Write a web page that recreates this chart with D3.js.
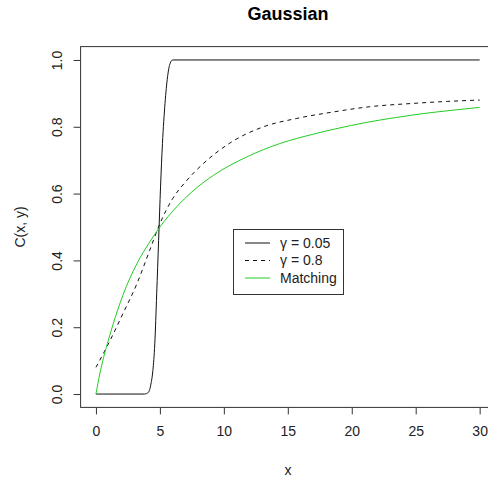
<!DOCTYPE html>
<html>
<head>
<meta charset="utf-8">
<script src="https://cdn.jsdelivr.net/npm/d3@7"></script>
<style>
  body { margin: 0; background: #fff; }
  svg { display: block; font-family: "Liberation Sans", Arial, sans-serif; }
  .tick text { font-size: 14px; fill: #222; }
</style>
</head>
<body>
<svg id="chart" width="488" height="479"></svg>
<script>
// values
const xTicks = [0, 5, 10, 15, 20, 25, 30];
const yTicks = [0.0, 0.2, 0.4, 0.6, 0.8, 1.0];

// gamma = 0.05 (solid black)
const narrowX = [0, 3.8, 4.1, 4.3, 4.45, 4.6, 4.75, 4.9, 5.05, 5.2, 5.4, 5.6, 5.8, 6.0, 30];
const narrowY = [0, 0, 0.005, 0.03, 0.07, 0.15, 0.3, 0.46, 0.62, 0.75, 0.87, 0.95, 0.99, 1.0, 1.0];

// gamma = 0.8 (dashed)
const wideX = [0, 1.1, 2.1, 3.2, 4.2, 5, 6, 7, 8.4, 10.5, 13.1, 15.7, 18.5, 21.4, 24.8, 27.5, 30];
const wideY = [0.08, 0.16, 0.24, 0.33, 0.43, 0.51, 0.585, 0.635, 0.69, 0.752, 0.80, 0.825, 0.844, 0.86, 0.87, 0.876, 0.88];

// matching (green)
const matchX = [0, 0.3, 0.6, 1, 1.35, 2.1, 3.2, 4.2, 5, 6.3, 7.5, 9.2, 11.8, 14.4, 17, 19, 21, 23.5, 26.1, 28, 30];
const matchY = [0, 0.06, 0.11, 0.165, 0.21, 0.295, 0.39, 0.455, 0.50, 0.56, 0.605, 0.655, 0.71, 0.75, 0.778, 0.796, 0.812, 0.828, 0.842, 0.85, 0.858];

const legendLabels = ["γ = 0.05", "γ = 0.8", "Matching"];

const svg = d3.select("#chart");

// R style: axis ranges padded by 4%
const x = d3.scaleLinear().domain([-1.2, 31.2]).range([80.6, 495]);
const y = d3.scaleLinear().domain([-0.04, 1.04]).range([407.4, 46.6]);

// plot box
svg.append("rect")
  .attr("x", x(-1.2)).attr("y", y(1.04))
  .attr("width", x(31.2) - x(-1.2)).attr("height", y(-0.04) - y(1.04))
  .attr("fill", "none").attr("stroke", "#333").attr("stroke-width", 1);

// x axis
const xAxis = svg.append("g")
  .attr("transform", `translate(0,${y(-0.04)})`)
  .call(d3.axisBottom(x).tickValues(xTicks).tickFormat(d3.format("d")).tickSize(7).tickPadding(12));
xAxis.select(".domain").remove();
xAxis.selectAll(".tick line").attr("stroke", "#333");

// y axis, labels turned like R
const yAxis = svg.append("g")
  .attr("transform", `translate(${x(-1.2)},0)`)
  .call(d3.axisLeft(y).tickValues(yTicks).tickFormat(d3.format(".1f")).tickSize(7));
yAxis.select(".domain").remove();
yAxis.selectAll(".tick line").attr("stroke", "#333");
yAxis.selectAll(".tick text")
  .attr("x", null).attr("dy", null)
  .attr("transform", "translate(-18.5,0) rotate(-90)")
  .attr("text-anchor", "middle");

// title and axis labels
svg.append("text").attr("x", 288).attr("y", 20)
  .attr("text-anchor", "middle").attr("font-size", 18).attr("font-weight", "bold")
  .text("Gaussian");
svg.append("text").attr("x", 288).attr("y", 475)
  .attr("text-anchor", "middle").attr("font-size", 14).attr("fill", "#222")
  .text("x");
svg.append("text")
  .attr("transform", `translate(25,${(y(-0.04) + y(1.04)) / 2}) rotate(-90)`)
  .attr("text-anchor", "middle").attr("font-size", 14).attr("fill", "#222")
  .text("C(x, y)");

// curves
const line = d3.line().curve(d3.curveMonotoneX).x(d => x(d[0])).y(d => y(d[1]));
const series = [
  { xs: narrowX, ys: narrowY, color: "#111", dash: null },
  { xs: wideX, ys: wideY, color: "#111", dash: "4,4" },
  { xs: matchX, ys: matchY, color: "#22cc22", dash: null }
];
series.forEach(s => {
  svg.append("path")
    .datum(s.xs.map((v, i) => [v, s.ys[i]]))
    .attr("d", line)
    .attr("fill", "none")
    .attr("stroke", s.color)
    .attr("stroke-width", 1)
    .attr("stroke-dasharray", s.dash);
});

// legend
const legend = svg.append("g");
legend.append("rect")
  .attr("x", 233.5).attr("y", 229.5).attr("width", 110).attr("height", 65)
  .attr("fill", "#fff").attr("stroke", "#333");
series.forEach((s, i) => {
  const ly = 243 + i * 17.5;
  legend.append("line")
    .attr("x1", 245).attr("x2", 270).attr("y1", ly).attr("y2", ly)
    .attr("stroke", s.color).attr("stroke-dasharray", s.dash);
  legend.append("text")
    .attr("x", 280).attr("y", ly).attr("dy", "0.35em")
    .attr("font-size", 14).attr("fill", "#222")
    .text(legendLabels[i]);
});
</script>
</body>
</html>
